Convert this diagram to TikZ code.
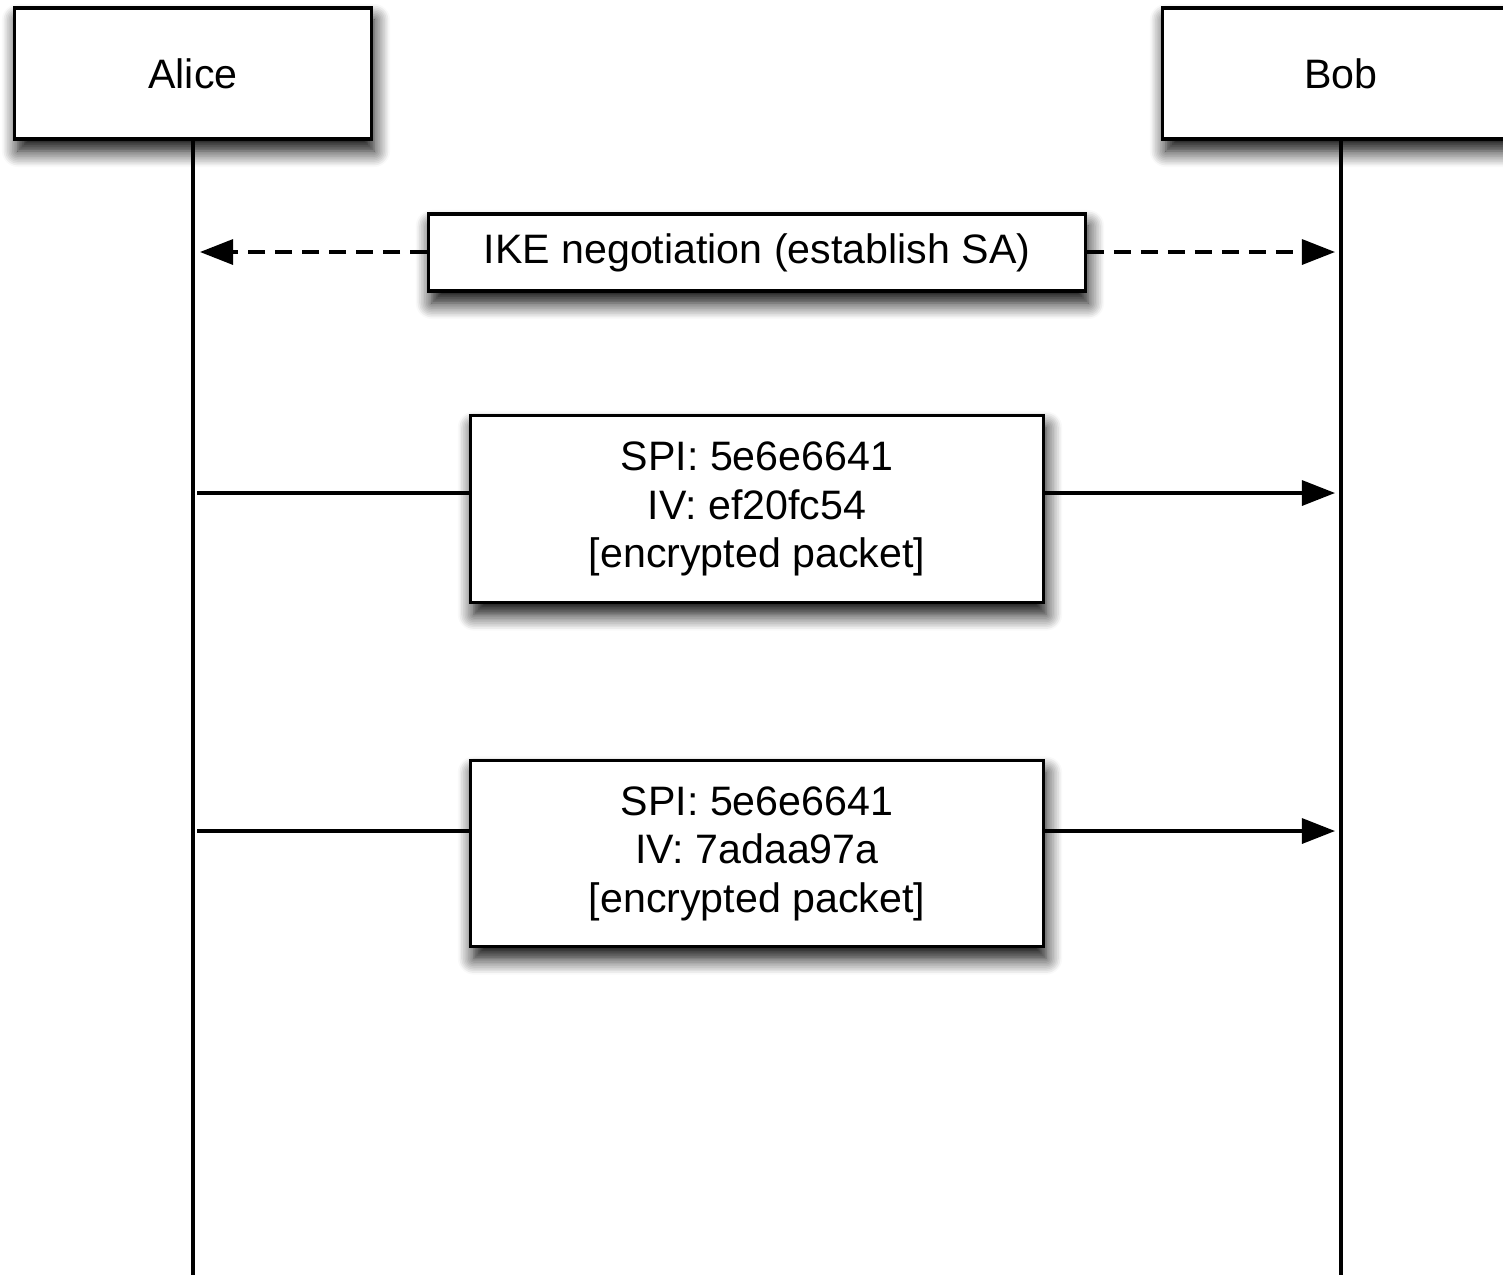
\documentclass[tikz,border=0pt]{standalone}
\usepackage{fontspec}
\setmainfont{Liberation Sans}
\usepackage{tikz}
\usetikzlibrary{arrows.meta,shadows.blur,calc}

\begin{document}
\begin{tikzpicture}[x=0.01cm,y=-0.01cm]
  \tikzstyle{actor} = [draw,line width=0.9pt,fill=white,minimum width=3.56cm,minimum height=1.31cm,
    blur shadow={shadow xshift=0.03cm,shadow yshift=-0.12cm,shadow blur radius=0.16cm,shadow opacity=100,shadow blur steps=10}]
  \tikzstyle{message} = [actor,align=center,inner sep=0pt]
  \tikzstyle{life} = [line width=0.9pt]
  \tikzstyle{call} = [line width=0.9pt,-{Triangle[length=0.33cm,width=0.25cm]}]
  \tikzstyle{dashcall} = [call,dash pattern=on 0.17cm off 0.1cm]
  \useasboundingbox (0,0) rectangle (1503,1275);
  \fontsize{11.7}{13.8}\selectfont
  %
  % Actors.
  \node[actor] (alice) at (193,73.5) {Alice};
  \node[actor] (bob) at (1341,73.5) {Bob};
  \coordinate (aliceend) at (193,1275);
  \coordinate (bobend) at (1341,1275);
  % Messages.
  \node[message,minimum width=6.56cm,minimum height=0.77cm] (ike) at (757,252.5) {IKE negotiation (establish SA)};
  \node[message,minimum width=5.72cm,minimum height=1.87cm] (pkt1) at (757,509)
    {SPI: 5e6e6641\\IV: ef20fc54\\{[encrypted packet]}};
  \node[message,minimum width=5.72cm,minimum height=1.86cm] (pkt2) at (757,853.5)
    {SPI: 5e6e6641\\IV: 7adaa97a\\{[encrypted packet]}};
  % Arrow ends.
  \coordinate (ikea) at (200,252);
  \coordinate (ikeb) at (1335,252);
  \coordinate (p1a) at (197,493);
  \coordinate (p1b) at (1335,493);
  \coordinate (p2a) at (197,831);
  \coordinate (p2b) at (1335,831);
  %
  % Draw lines.
  \draw[life] (alice) -- (aliceend) (bob) -- (bobend);
  \draw[dashcall] (ike.west |- ikea) -- (ikea);
  \draw[dashcall] (ike.east |- ikeb) -- (ikeb);
  \draw[life] (p1a) -- (pkt1.west |- p1a);
  \draw[call] (pkt1.east |- p1b) -- (p1b);
  \draw[life] (p2a) -- (pkt2.west |- p2a);
  \draw[call] (pkt2.east |- p2b) -- (p2b);
\end{tikzpicture}
\end{document}
